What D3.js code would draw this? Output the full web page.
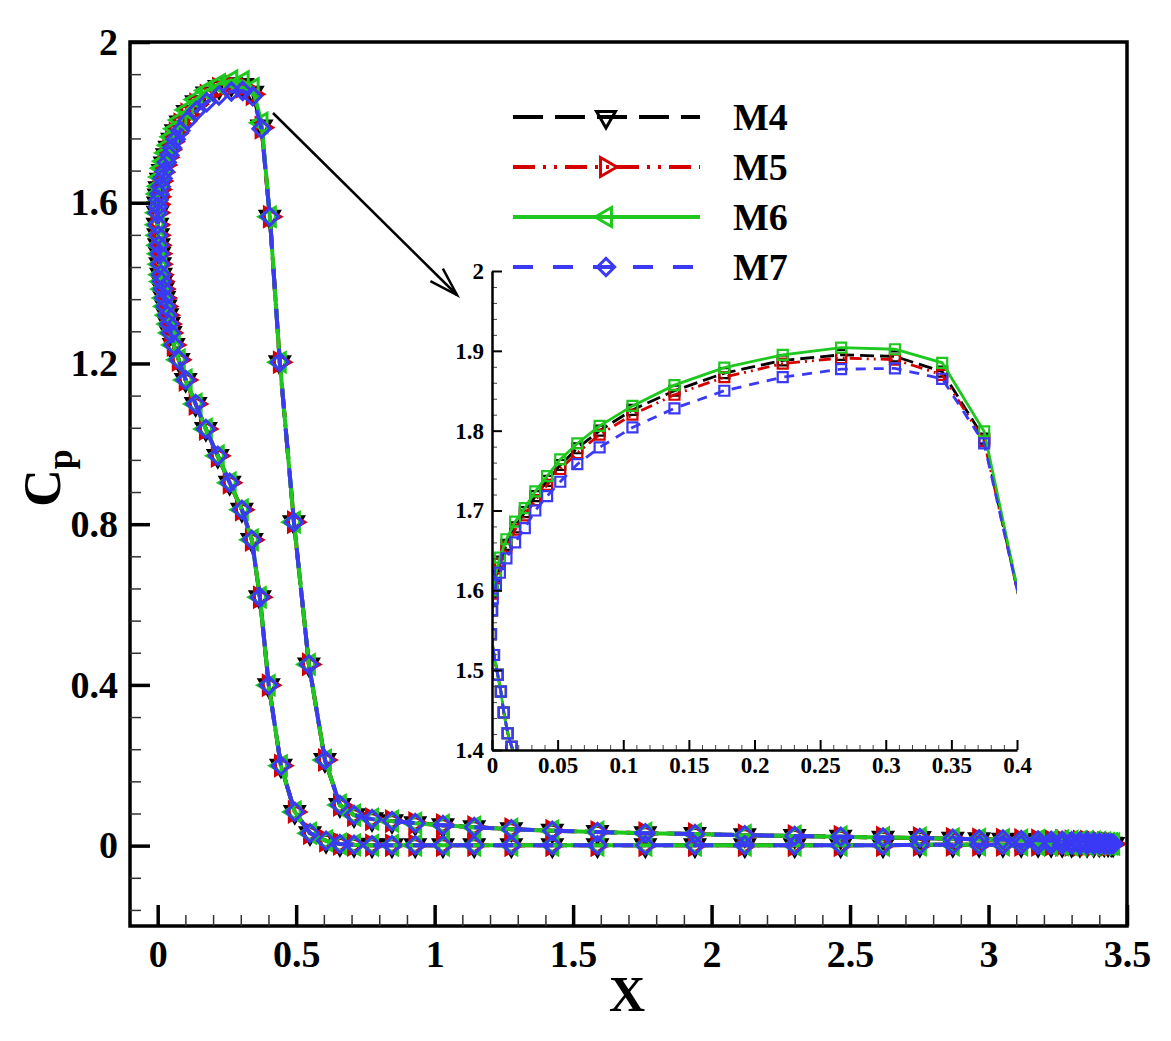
<!doctype html>
<html lang="en">
<head>
  <meta charset="utf-8">
  <title>Cp distribution</title>
  <script src="https://d3js.org/d3.v7.min.js"></script>
  <style>
    body { margin: 0; background: #fff; }
    text { font-family: "Liberation Serif", "Times New Roman", serif; font-weight: bold; }
  </style>
</head>
<body>
<svg id="chart" width="1171" height="1041"></svg>
<script>
// ---- data ----
const seriesNames = ["M4", "M5", "M6", "M7"];

// shared x stations along the wake part (upper and lower branch use the same stations)
const xTail = [0.658, 0.709, 0.774, 0.846, 0.93, 1.03, 1.143, 1.277, 1.425, 1.588, 1.761, 1.94, 2.12, 2.30,
  2.466, 2.619, 2.752, 2.871, 2.966, 3.052, 3.118, 3.179, 3.226, 3.266, 3.300, 3.330, 3.356, 3.380,
  3.400, 3.418, 3.432, 3.443, 3.450];
const cpTailUpper = [0.101, 0.076, 0.066, 0.061, 0.056, 0.051, 0.046, 0.041, 0.037, 0.034, 0.031, 0.029, 0.026, 0.024,
  0.022, 0.020, 0.019, 0.017, 0.016, 0.015, 0.014, 0.013, 0.012, 0.012, 0.011, 0.010, 0.010, 0.009,
  0.008, 0.007, 0.006, 0.005, 0.004];
const cpTailLower = [0.004, 0.002, 0.001, 0.001, 0.001, 0.001, 0.001, 0.001, 0.001, 0.001, 0.001, 0.001, 0.001, 0.001,
  0.001, 0.001, 0.002, 0.002, 0.002, 0.002, 0.002, 0.002, 0.002, 0.002, 0.002, 0.002, 0.002, 0.002,
  0.003, 0.003, 0.003, 0.004, 0.004];

// lower branch, from the stagnation point outwards
const xLow = [0.0, -0.0008, 0.0015, 0.0044, 0.0068, 0.009, 0.012, 0.015, 0.019, 0.024, 0.029, 0.035, 0.041, 0.047,
  0.058, 0.076, 0.101, 0.137, 0.174, 0.217, 0.260, 0.304, 0.340, 0.369, 0.401, 0.445, 0.495, 0.550, 0.608];
const cpLow = [1.575, 1.545, 1.519, 1.494, 1.473, 1.447, 1.421, 1.404, 1.385, 1.363, 1.342, 1.320, 1.298, 1.276,
  1.246, 1.209, 1.159, 1.099, 1.037, 0.970, 0.903, 0.836, 0.761, 0.618, 0.399, 0.199, 0.084, 0.031, 0.012];

// upper arc (where the meshes differ)
const xArc = [0.0006, 0.003, 0.006, 0.011, 0.0176, 0.025, 0.033, 0.042, 0.052, 0.065, 0.082, 0.107, 0.139,
  0.177, 0.2215, 0.266, 0.307, 0.343, 0.375];
const cpArcM4 = [1.598, 1.618, 1.636, 1.657, 1.679, 1.698, 1.718, 1.737, 1.757, 1.778, 1.800, 1.826, 1.850,
  1.872, 1.888, 1.895, 1.893, 1.874, 1.790];
const cpArcM5 = [1.596, 1.615, 1.633, 1.654, 1.676, 1.694, 1.713, 1.732, 1.752, 1.772, 1.795, 1.820, 1.845,
  1.867, 1.884, 1.891, 1.889, 1.870, 1.787];
const cpArcM6 = [1.600, 1.622, 1.641, 1.664, 1.686, 1.703, 1.724, 1.743, 1.764, 1.784, 1.806, 1.831, 1.857,
  1.879, 1.895, 1.904, 1.902, 1.885, 1.799];
const cpArcM7 = [1.590, 1.607, 1.622, 1.640, 1.660, 1.678, 1.700, 1.718, 1.736, 1.758, 1.779, 1.804, 1.828,
  1.850, 1.867, 1.877, 1.878, 1.865, 1.784];

// steep drop after the peak
const xDrop = [0.405, 0.441, 0.492, 0.546, 0.604];
const cpDrop = [1.565, 1.203, 0.805, 0.451, 0.213];

const xTicks = [0, 0.5, 1, 1.5, 2, 2.5, 3, 3.5];
const yTicks = [0, 0.4, 0.8, 1.2, 1.6, 2];
const insetXTicks = [0, 0.05, 0.1, 0.15, 0.2, 0.25, 0.3, 0.35, 0.4];
const insetYTicks = [1.4, 1.5, 1.6, 1.7, 1.8, 1.9, 2];

// ---- styles ----
const colors = {M4: "#000000", M5: "#d40000", M6: "#1ec81e", M7: "#3a3af5"};
const dashes = {M4: "30,12", M5: "22,8,3,8,3,8", M6: null, M7: "20,20"};
const insetDashes = {M4: "14,6", M5: "12,5,2,5,2,5", M6: null, M7: "10,8"};
const rotations = {M4: 180, M5: 90, M6: -90, M7: 45};

function buildSeries(cpArc) {
  const pts = [];
  for (let i = xTail.length - 1; i >= 0; i--) pts.push([xTail[i], cpTailLower[i]]);
  for (let i = xLow.length - 1; i >= 0; i--) pts.push([xLow[i], cpLow[i]]);
  xArc.forEach((x, i) => pts.push([x, cpArc[i]]));
  xDrop.forEach((x, i) => pts.push([x, cpDrop[i]]));
  xTail.forEach((x, i) => pts.push([x, cpTailUpper[i]]));
  return pts;
}
const data = {
  M4: buildSeries(cpArcM4),
  M5: buildSeries(cpArcM5),
  M6: buildSeries(cpArcM6),
  M7: buildSeries(cpArcM7)
};

const svg = d3.select("#chart");

// main scales
const x = d3.scaleLinear().domain([-0.1, 3.5]).range([130, 1127]);
const y = d3.scaleLinear().domain([-0.2, 2]).range([926, 42]);

function markerPath(name) {
  const type = name === "M7" ? d3.symbolSquare : d3.symbolTriangle;
  const size = name === "M7" ? 150 : 155;
  return d3.symbol().type(type).size(size)();
}

// main curves
const line = d3.line().x(d => x(d[0])).y(d => y(d[1]));
seriesNames.forEach(name => {
  const g = svg.append("g");
  g.append("path")
    .attr("d", line(data[name]))
    .attr("fill", "none")
    .attr("stroke", colors[name])
    .attr("stroke-width", 4)
    .attr("stroke-dasharray", dashes[name]);
  g.selectAll("path.mk")
    .data(data[name])
    .enter()
    .append("path")
    .attr("class", "mk")
    .attr("d", markerPath(name))
    .attr("transform", d => `translate(${x(d[0])},${y(d[1])}) rotate(${rotations[name]})`)
    .attr("fill", "none")
    .attr("stroke", colors[name])
    .attr("stroke-width", 3);
});

// frame
svg.append("rect")
  .attr("x", 130).attr("y", 42)
  .attr("width", 1127 - 130).attr("height", 926 - 42)
  .attr("fill", "none").attr("stroke", "#000").attr("stroke-width", 3.5);

// main axes: ticks point inwards
const xMinor = d3.range(0.1, 3.5, 0.1).filter(v => Math.abs(v * 2 - Math.round(v * 2)) > 1e-6);
const yMinor = d3.range(-0.16, 2, 0.08).filter(v => Math.abs(v / 0.4 - Math.round(v / 0.4)) > 1e-6);

const gx = svg.append("g").attr("transform", "translate(0,926)");
gx.call(d3.axisBottom(x).tickValues(xMinor).tickSize(-11).tickFormat(""));
gx.call(g => g.selectAll(".tick line").attr("stroke-width", 1.5).attr("stroke", "#333"));
const gxMaj = svg.append("g").attr("transform", "translate(0,926)")
  .call(d3.axisBottom(x).tickValues(xTicks).tickSize(-21).tickPadding(14).tickFormat(d3.format("")));
gxMaj.selectAll(".tick line").attr("stroke-width", 3.5);
gxMaj.selectAll(".tick text").attr("font-size", 38).attr("fill", "#000");

const gy = svg.append("g").attr("transform", "translate(130,0)");
gy.call(d3.axisLeft(y).tickValues(yMinor).tickSize(-11).tickFormat(""));
gy.call(g => g.selectAll(".tick line").attr("stroke-width", 1.5).attr("stroke", "#333"));
const gyMaj = svg.append("g").attr("transform", "translate(130,0)")
  .call(d3.axisLeft(y).tickValues(yTicks).tickSize(-20).tickPadding(12).tickFormat(d3.format("")));
gyMaj.selectAll(".tick line").attr("stroke-width", 3.5);
gyMaj.selectAll(".tick text").attr("font-size", 38).attr("fill", "#000");
svg.selectAll(".domain").remove();

// axis titles
svg.append("text")
  .attr("x", 627).attr("y", 1011)
  .attr("text-anchor", "middle")
  .attr("font-size", 50)
  .text("X");
const yt = svg.append("text")
  .attr("transform", "translate(60,478) rotate(-90)")
  .attr("text-anchor", "middle")
  .attr("font-size", 52);
yt.append("tspan").text("C");
yt.append("tspan").attr("font-size", 36).attr("dy", 12).text("p");

// arrow to the inset
svg.append("line")
  .attr("x1", 273).attr("y1", 113).attr("x2", 457).attr("y2", 295)
  .attr("stroke", "#000").attr("stroke-width", 2.5);
(function arrowHead() {
  const tip = [457, 295];
  const ang = Math.atan2(295 - 113, 457 - 273);
  const len = 30, spread = 0.3;
  const p1 = [tip[0] - len * Math.cos(ang - spread), tip[1] - len * Math.sin(ang - spread)];
  const p2 = [tip[0] - len * Math.cos(ang + spread), tip[1] - len * Math.sin(ang + spread)];
  svg.append("path")
    .attr("d", `M${p1[0]},${p1[1]}L${tip[0]},${tip[1]}L${p2[0]},${p2[1]}`)
    .attr("fill", "none").attr("stroke", "#000").attr("stroke-width", 2.5);
})();

// ---- inset ----
const xi = d3.scaleLinear().domain([0, 0.4]).range([492, 1017]);
const yi = d3.scaleLinear().domain([1.4, 2]).range([750, 271]);

svg.append("defs").append("clipPath").attr("id", "insetClip")
  .append("rect")
  .attr("x", xi(0)).attr("y", yi(2))
  .attr("width", xi(0.4) - xi(0)).attr("height", yi(1.4) - yi(2));

const insetLine = d3.line().x(d => xi(d[0])).y(d => yi(d[1]));
const inset = svg.append("g").attr("clip-path", "url(#insetClip)");
seriesNames.forEach(name => {
  inset.append("path")
    .attr("d", insetLine(data[name]))
    .attr("fill", "none")
    .attr("stroke", colors[name])
    .attr("stroke-width", 2.8)
    .attr("stroke-dasharray", insetDashes[name]);
  inset.selectAll("path.mk" + name)
    .data(data[name].filter(d => d[1] > 1.38 && d[0] < 0.42))
    .enter()
    .append("path")
    .attr("class", "mk" + name)
    .attr("d", d3.symbol().type(d3.symbolSquare).size(100)())
    .attr("transform", d => `translate(${xi(d[0])},${yi(d[1])})`)
    .attr("fill", "none")
    .attr("stroke", colors[name])
    .attr("stroke-width", 2.2);
});

const insetXMinor = d3.range(0.01, 0.4, 0.01).filter(v => Math.abs(v / 0.05 - Math.round(v / 0.05)) > 1e-6);
const insetYMinor = d3.range(1.42, 2, 0.02).filter(v => Math.abs(v / 0.1 - Math.round(v / 0.1)) > 1e-6);

const gix = svg.append("g").attr("transform", `translate(0,${yi(1.4)})`);
gix.call(d3.axisBottom(xi).tickValues(insetXMinor).tickSize(-5).tickFormat(""));
gix.selectAll(".tick line").attr("stroke-width", 1).attr("stroke", "#444");
const gixMaj = svg.append("g").attr("transform", `translate(0,${yi(1.4)})`)
  .call(d3.axisBottom(xi).tickValues(insetXTicks).tickSize(-10).tickPadding(7).tickSizeOuter(0).tickFormat(d3.format("")));
gixMaj.selectAll(".tick line").attr("stroke-width", 2);
gixMaj.select(".domain").attr("stroke-width", 2.5);
gixMaj.selectAll(".tick text").attr("font-size", 23).attr("fill", "#000");

const giy = svg.append("g").attr("transform", `translate(${xi(0)},0)`);
giy.call(d3.axisLeft(yi).tickValues(insetYMinor).tickSize(-5).tickFormat(""));
giy.selectAll(".tick line").attr("stroke-width", 1).attr("stroke", "#444");
const giyMaj = svg.append("g").attr("transform", `translate(${xi(0)},0)`)
  .call(d3.axisLeft(yi).tickValues(insetYTicks).tickSize(-10).tickPadding(8).tickSizeOuter(0).tickFormat(d3.format("")));
giyMaj.selectAll(".tick line").attr("stroke-width", 2);
giyMaj.select(".domain").attr("stroke-width", 2.5);
giyMaj.selectAll(".tick text").attr("font-size", 23).attr("fill", "#000");
gix.select(".domain").remove();
giy.select(".domain").remove();

// ---- legend ----
const legendY = d3.scalePoint().domain(seriesNames).range([117, 267]);
const legend = svg.append("g");
seriesNames.forEach(name => {
  const ly = legendY(name);
  legend.append("line")
    .attr("x1", 513).attr("x2", 700).attr("y1", ly).attr("y2", ly)
    .attr("stroke", colors[name]).attr("stroke-width", 4)
    .attr("stroke-dasharray", dashes[name]);
  legend.append("path")
    .attr("d", markerPath(name))
    .attr("transform", `translate(606,${ly}) rotate(${rotations[name]})`)
    .attr("fill", "none")
    .attr("stroke", colors[name])
    .attr("stroke-width", 3);
  legend.append("text")
    .attr("x", 733).attr("y", ly + 13)
    .attr("font-size", 38)
    .text(name);
});
</script>
</body>
</html>
